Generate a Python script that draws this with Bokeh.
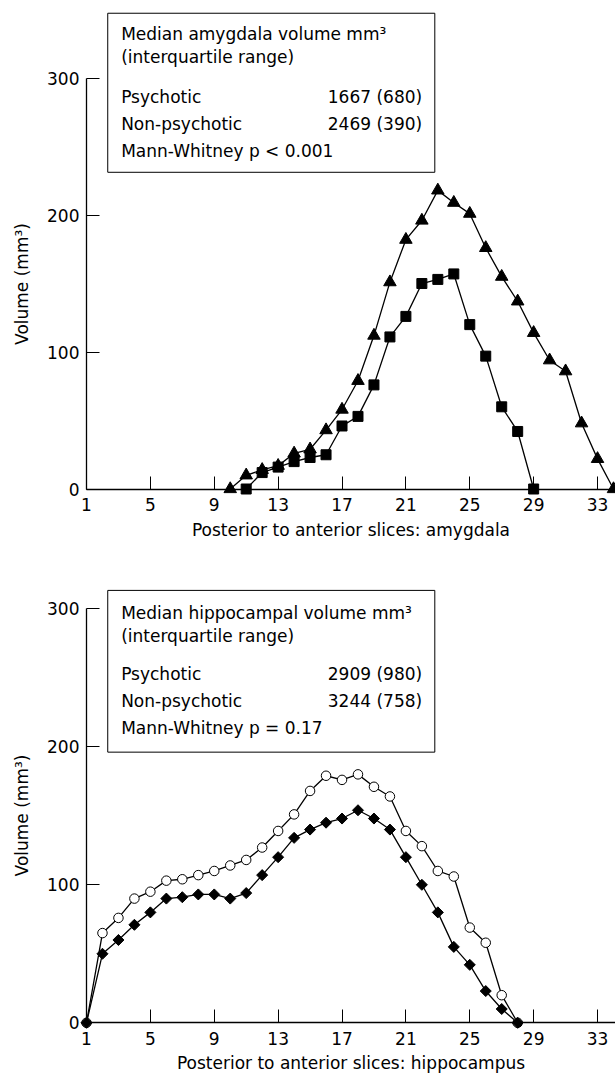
import math
from bokeh.plotting import figure
from bokeh.models import FixedTicker, Label, BoxAnnotation
from bokeh.layouts import column
from bokeh.embed import file_html
from bokeh.resources import INLINE

FONT = "DejaVu Sans"
FS = "17px"

# ---- data: amygdala ----
amy_nonpsych_x = list(range(10, 35))
amy_nonpsych_y = [0, 10, 14, 17, 26, 29, 43, 58, 79, 112, 151, 182, 196, 218, 209,
                  201, 176, 155, 137, 114, 94, 86, 48, 22, 0]
amy_psych_x = list(range(11, 30))
amy_psych_y = [0, 12, 16, 20, 23, 25, 46, 53, 76, 111, 126, 150, 153, 157, 120,
               97, 60, 42, 0]

# ---- data: hippocampus ----
hip_x = list(range(1, 29))
hip_nonpsych_y = [0, 65, 76, 90, 95, 103, 104, 107, 110, 114, 118, 127, 139, 151,
                  168, 179, 176, 180, 171, 164, 139, 128, 110, 106, 69, 58, 20, 0]
hip_psych_y = [0, 50, 60, 71, 80, 90, 91, 93, 93, 90, 94, 107, 120, 134, 140,
               145, 148, 154, 148, 140, 120, 100, 80, 55, 42, 23, 10, 0]

x_ticks = [1, 5, 9, 13, 17, 21, 25, 29, 33]
y_ticks = [0, 100, 200, 300]

amy_lines = ["Median amygdala volume mm\u00b3", "(interquartile range)",
             "Psychotic", "Non-psychotic", "Mann-Whitney p < 0.001"]
amy_vals = ["1667 (680)", "2469 (390)"]
hip_lines = ["Median hippocampal volume mm\u00b3", "(interquartile range)",
             "Psychotic", "Non-psychotic", "Mann-Whitney p = 0.17"]
hip_vals = ["2909 (980)", "3244 (758)"]

X_START, X_END = -4.385, 34.125
W = 615


def make_fig(height, y_start, y_end, xlabel):
    p = figure(width=W, height=height, x_range=(X_START, X_END),
               y_range=(y_start, y_end), output_backend="svg",
               toolbar_location=None, title=None,
               min_border_left=0, min_border_right=0,
               min_border_top=0, min_border_bottom=0)
    p.outline_line_color = None
    p.xgrid.visible = False
    p.ygrid.visible = False
    p.background_fill_color = "white"
    p.border_fill_color = "white"
    for ax in (p.xaxis[0], p.yaxis[0]):
        ax.major_tick_in = 13
        ax.major_tick_out = 0
        ax.minor_tick_in = 0
        ax.minor_tick_out = 0
        ax.axis_line_color = "black"
        ax.axis_line_width = 1.3
        ax.major_tick_line_color = "black"
        ax.major_tick_line_width = 1
        ax.major_label_text_font = FONT
        ax.major_label_text_font_size = FS
        ax.major_label_text_color = "black"
        ax.axis_label_text_font = FONT
        ax.axis_label_text_font_size = FS
        ax.axis_label_text_font_style = "normal"
        ax.axis_label_text_color = "black"
    p.xaxis.ticker = FixedTicker(ticks=x_ticks)
    p.yaxis.ticker = FixedTicker(ticks=y_ticks)
    p.xaxis.fixed_location = 0
    p.yaxis.fixed_location = 1
    p.xaxis.bounds = (1, X_END)
    p.yaxis.bounds = (0, 300)
    p.xaxis.major_label_standoff = 9
    p.yaxis.major_label_standoff = 7
    p.xaxis.axis_label = xlabel
    p.yaxis.axis_label = "Volume (mm\u00b3)"
    p.xaxis.axis_label_standoff = 5
    p.yaxis.axis_label_standoff = 12
    return p


def add_legend(p, lines, vals, box, line_y, x_left, x_right):
    p.add_layout(BoxAnnotation(left=box[0], right=box[1], top=box[2], bottom=box[3],
                               fill_color=None, fill_alpha=0, line_color="black",
                               line_alpha=1, line_width=1))
    for t, yy in zip(lines, line_y):
        p.add_layout(Label(x=x_left, y=yy, text=t, text_font=FONT, text_font_size=FS,
                           text_baseline="middle", text_align="left", text_color="black"))
    for t, yy in zip(vals, line_y[2:4]):
        p.add_layout(Label(x=x_right, y=yy, text=t, text_font=FONT, text_font_size=FS,
                           text_baseline="middle", text_align="right", text_color="black"))


# ---------------- top: amygdala ----------------
p1 = make_fig(542, -39.05, 356.6, "Posterior to anterior slices: amygdala")
p1.line(amy_psych_x, amy_psych_y, line_color="black", line_width=1.3)
p1.line(amy_nonpsych_x, amy_nonpsych_y, line_color="black", line_width=1.3)
p1.scatter(amy_psych_x, amy_psych_y, marker="square", size=10,
           fill_color="black", line_color="black")
p1.scatter(amy_nonpsych_x, amy_nonpsych_y, marker="triangle", size=12.5,
           fill_color="black", line_color="black")
add_legend(p1, amy_lines, amy_vals, (2.33, 22.81, 347.3, 231.2),
           [331.8, 315.0, 286.5, 266.8, 247.1], 3.17, 22.02)

# ---------------- bottom: hippocampus ----------------
p2 = make_fig(532, -37.46, 348.0, "Posterior to anterior slices: hippocampus")
p2.line(hip_x, hip_nonpsych_y, line_color="black", line_width=1.3)
p2.line(hip_x, hip_psych_y, line_color="black", line_width=1.3)
p2.scatter(hip_x, hip_nonpsych_y, marker="circle", size=9.5,
           fill_color="white", line_color="black", line_width=1)
p2.scatter(hip_x, hip_psych_y, marker="square", angle=math.pi / 4, size=7.8,
           fill_color="black", line_color="black")
add_legend(p2, hip_lines, hip_vals, (2.33, 22.81, 313.3, 196.1),
           [297.2, 280.1, 252.6, 233.3, 213.4], 3.17, 22.02)

layout = column(p1, p2)
open("out.html", "w").write(file_html(layout, INLINE))
